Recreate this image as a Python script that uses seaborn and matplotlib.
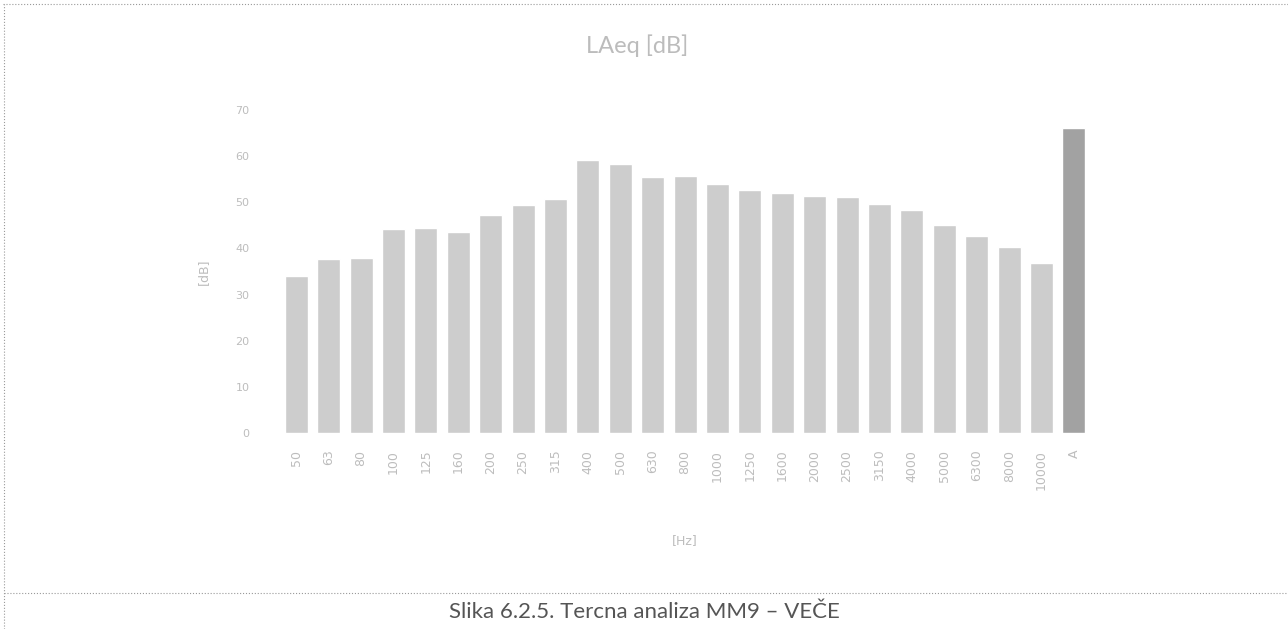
import pandas as pd
import seaborn as sns
import matplotlib.pyplot as plt
from matplotlib.lines import Line2D

# tercna (1/3 octave) analysis, MM9 evening
freqs = ['50', '63', '80', '100', '125', '160', '200', '250', '315', '400',
         '500', '630', '800', '1000', '1250', '1600', '2000', '2500', '3150',
         '4000', '5000', '6300', '8000', '10000', 'A']
laeq = [34.1, 37.7, 38.0, 44.2, 44.4, 43.6, 47.2, 49.4, 50.8, 59.2,
        58.4, 55.4, 55.8, 54.0, 52.6, 52.1, 51.4, 51.2, 49.7, 48.4,
        45.1, 42.7, 40.4, 36.8, 66.2]
yticks = [0, 10, 20, 30, 40, 50, 60, 70]

df = pd.DataFrame({'freq': freqs, 'laeq': laeq})

sns.set_style('white')
plt.rcParams['font.family'] = ['DejaVu Sans']

fig = plt.figure(figsize=(12.88, 6.29), dpi=100)
ax = fig.add_axes([0.2174, 0.3116, 0.629, 0.5135])

colors = ['#cdcdcd'] * (len(freqs) - 1) + ['#a2a2a2']
sns.barplot(ax=ax, data=df, x='freq', y='laeq', hue='freq', palette=colors,
            order=freqs, legend=False, width=0.71, saturation=1)

ax.set_ylim(0, 70)
ax.set_yticks(yticks)
ax.set_xlim(-0.5, len(freqs) - 0.5)
faint = '#bdbdbd'
ax.tick_params(axis='both', colors=faint, labelsize=8, length=0)
ax.tick_params(axis='y', pad=22)
ax.tick_params(axis='x', rotation=90, pad=12, labelsize=9)
for lbl in ax.get_xticklabels():
    lbl.set_va('top')
ax.set_xlabel('[Hz]', color=faint, fontsize=9, labelpad=32)
ax.set_ylabel('[dB]', color=faint, fontsize=9, labelpad=18)
sns.despine(ax=ax, left=True, bottom=True)

fig.text(0.495, 0.928, 'LAeq [dB]', ha='center', va='center', color='#bcbcbc',
         fontsize=17, family=['Lato', 'DejaVu Sans'])

# page frame of the scanned figure
grey = '#9a9a9a'
fig.add_artist(Line2D([0.002, 1.0], [0.993, 0.993], color=grey, lw=0.8, ls=':'))
fig.add_artist(Line2D([0.003, 0.003], [0.0, 0.993], color=grey, lw=0.8, ls=':'))
fig.add_artist(Line2D([0.003, 1.0], [0.058, 0.058], color=grey, lw=0.8, ls=':'))

fig.text(0.5, 0.027, 'Slika 6.2.5. Tercna analiza MM9 – VEČE', ha='center', va='center',
         color='#555555', fontsize=16, family=['Lato', 'DejaVu Sans'])

plt.savefig('out.png', dpi=100)
